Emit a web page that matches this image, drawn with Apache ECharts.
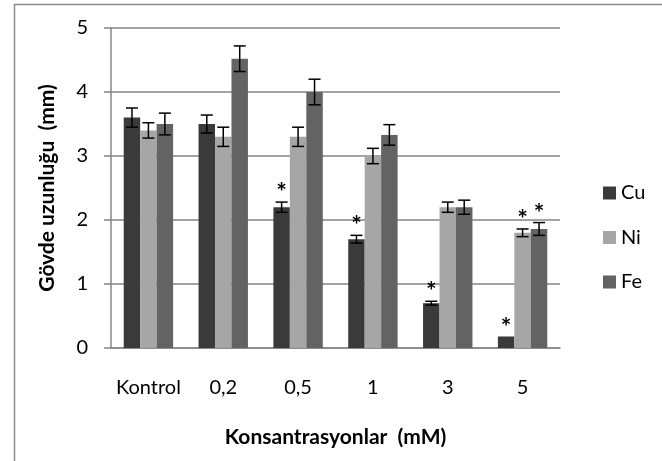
<!DOCTYPE html>
<html><head><meta charset="utf-8">
<script src="https://cdn.jsdelivr.net/npm/echarts@6/dist/echarts.min.js"></script>
<style>html,body{margin:0;padding:0;background:#fff}#c{width:662px;height:461px}</style>
</head><body><div id="c"></div>
<script>
const categories = ['Kontrol', '0,2', '0,5', '1', '3', '5'];
const cu = [3.6, 3.5, 2.2, 1.7, 0.7, 0.18];
const ni = [3.4, 3.3, 3.3, 3.0, 2.2, 1.8];
const fe = [3.5, 4.52, 4.0, 3.33, 2.2, 1.86];
const cuErr = [0.15, 0.14, 0.08, 0.06, 0.03, 0.0];
const niErr = [0.12, 0.15, 0.15, 0.12, 0.08, 0.06];
const feErr = [0.17, 0.2, 0.2, 0.16, 0.11, 0.1];
const cuSig = [0, 0, 1, 1, 1, 1];
const niSig = [0, 0, 0, 0, 0, 1];
const feSig = [0, 0, 0, 0, 0, 1];
const yTicks = [0, 1, 2, 3, 4, 5];

const FONT = 'Lato';
const colors = ['#3a3a3a', '#a6a6a6', '#636363'];
const gapFrac = 0.34;

function errSeries(vals, errs, sig, idx) {
  return {
    type: 'custom',
    name: 'err' + idx,
    z: 5,
    data: vals.map((v, i) => [i, v, errs[i], sig[i]]),
    renderItem: function (params, api) {
      const i = api.value(0), v = api.value(1), e = api.value(2), s = api.value(3);
      const band = api.size([1, 0])[0];
      const bw = band * (1 - gapFrac) / 3;
      const c = api.coord([i, v]);
      const x = c[0] + (idx - 1) * bw;
      const top = api.coord([i, v + e])[1];
      const bot = api.coord([i, v - e])[1];
      const cap = 6;
      const children = [];
      if (e > 0) {
        const st = { stroke: '#000', lineWidth: 1.5 };
        children.push({ type: 'line', shape: { x1: x, y1: top, x2: x, y2: bot }, style: st });
        children.push({ type: 'line', shape: { x1: x - cap, y1: top, x2: x + cap, y2: top }, style: st });
        children.push({ type: 'line', shape: { x1: x - cap, y1: bot, x2: x + cap, y2: bot }, style: st });
      }
      if (s) {
        children.push({ type: 'text', style: { text: '*', x: x, y: top - 9, align: 'center', verticalAlign: 'middle',
          font: 'bold 25px ' + FONT, fill: '#000' } });
      }
      return { type: 'group', children: children };
    }
  };
}

const chart = echarts.init(document.getElementById('c'), null, { renderer: 'canvas' });
chart.setOption({
  animation: false,
  textStyle: { fontFamily: FONT },
  graphic: [{ type: 'rect', shape: { x: 14.5, y: 4.5, width: 700, height: 500 }, style: { fill: 'none', stroke: '#8c8c8c', lineWidth: 1.5 }, silent: true }],
  grid: { left: 111, right: 102, top: 28, bottom: 113 },
  legend: {
    orient: 'vertical', left: 598, top: 178, itemWidth: 13, itemHeight: 13, itemGap: 24.5,
    icon: 'rect', data: ['Cu', 'Ni', 'Fe'],
    textStyle: { fontFamily: FONT, fontSize: 20, color: '#000', padding: [0, 0, 0, 0] }
  },
  xAxis: {
    type: 'category', data: categories,
    name: 'Konsantrasyonlar  (mM)', nameLocation: 'middle', nameGap: 79,
    nameTextStyle: { fontFamily: FONT, fontWeight: 'bold', fontSize: 21, color: '#000' },
    axisLine: { lineStyle: { color: '#868686', width: 1.5 } },
    axisTick: { length: 10, lineStyle: { color: '#868686', width: 1.5 } },
    axisLabel: { interval: 0, hideOverlap: false, margin: 30, fontFamily: FONT, fontSize: 20, color: '#000' }
  },
  yAxis: {
    type: 'value', min: 0, max: 5, interval: 1,
    name: 'Gövde uzunluğu  (mm)', nameLocation: 'middle', nameGap: 53,
    nameTextStyle: { fontFamily: FONT, fontWeight: 'bold', fontSize: 21, color: '#000' },
    axisLine: { show: true, lineStyle: { color: '#868686', width: 1.5 } },
    axisTick: { show: true, length: 7, lineStyle: { color: '#868686', width: 1.5 } },
    axisLabel: { margin: 23, fontFamily: FONT, fontSize: 20, color: '#000',
      formatter: v => yTicks.includes(v) ? String(v) : '' },
    splitLine: { lineStyle: { color: '#868686', width: 1.5 } }
  },
  series: [
    { type: 'bar', name: 'Cu', data: cu, itemStyle: { color: colors[0] }, barGap: '0%', barCategoryGap: (gapFrac * 100) + '%' },
    { type: 'bar', name: 'Ni', data: ni, itemStyle: { color: colors[1] }, barGap: '0%', barCategoryGap: (gapFrac * 100) + '%' },
    { type: 'bar', name: 'Fe', data: fe, itemStyle: { color: colors[2] }, barGap: '0%', barCategoryGap: (gapFrac * 100) + '%' },
    errSeries(cu, cuErr, cuSig, 0),
    errSeries(ni, niErr, niSig, 1),
    errSeries(fe, feErr, feSig, 2)
  ]
});
</script></body></html>
